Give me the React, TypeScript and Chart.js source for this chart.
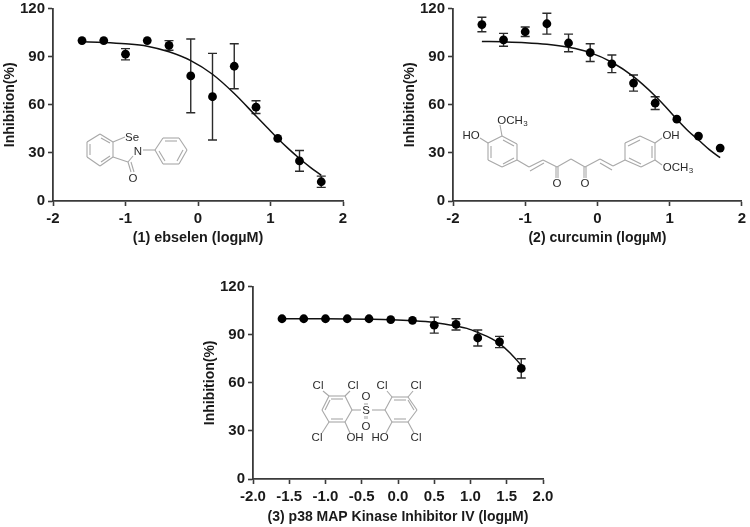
import React, { useEffect, useRef } from "react";
import { Chart, registerables } from "chart.js";

Chart.register(...registerables);

const FONT = '"Liberation Sans", Arial, sans-serif';

const doses = [-1.6, -1.3, -1, -0.7, -0.4, -0.1, 0.2, 0.5, 0.8, 1.1, 1.4, 1.7];
const curveDoses = [-1.6, -1.3, -1, -0.7, -0.4, -0.1, 0.2, 0.5, 0.8, 0.95, 1.1, 1.25, 1.4, 1.55, 1.7];

const ebselenValues = [100, 100, 91.5, 100, 97, 78, 65, 84, 58.5, 39, 25, 12];
const ebselenErrors = [0, 0, 3.5, 0, 3, 23, 27, 14, 4, 0, 6.5, 3.5];
const ebselenCurve = [99.2, 98.8, 98, 96.5, 93, 87.5, 79, 67, 53, 46, 39, 32.5, 26.5, 21, 16];

const curcuminValues = [110, 100.5, 105.5, 110.5, 98.5, 92.5, 85.5, 73.5, 61, 51, 40.5, 33];
const curcuminErrors = [4.5, 4, 3, 6.5, 5.5, 5.5, 5.5, 5, 4, 0, 0, 0];
const curcuminCurve = [99.5, 99.2, 98.7, 97.7, 95.8, 92.5, 86.5, 77.5, 65.5, 58.5, 51, 44, 38, 32, 27];

const p38Values = [100, 100, 100, 100, 100, 99.5, 99, 96, 96.5, 88, 85.5, 69];
const p38Errors = [0, 0, 0, 0, 0, 0, 0, 5, 3.5, 5, 3.5, 6];
const p38Curve = [100, 100, 100, 99.9, 99.7, 99.4, 98.8, 97.7, 95.5, 94, 91.5, 88.5, 84.5, 78.5, 71];

type Seg = number[];
type Lab = [string, number, number];

// Chemical structure decorations, in page pixels
const ebselenBonds: Seg[] = [
  [100, 134, 113, 142], [113, 142, 113, 157], [113, 157, 100, 166], [100, 166, 87, 157], [87, 157, 87, 142], [87, 142, 100, 134],
  [101, 138, 110, 143], [110, 156, 101, 162], [90, 155, 90, 144],
  [113, 142, 125, 137], [113, 157, 128, 162], [128, 162, 133, 156], [128, 162, 131, 172], [131, 162, 134, 172],
  [143, 150, 155, 150],
  [163, 138, 179, 138], [179, 138, 187, 150], [187, 150, 179, 164], [179, 164, 163, 164], [163, 164, 155, 150], [155, 150, 163, 138],
  [165, 141, 177, 141], [183, 150, 177, 161], [165, 161, 159, 151],
];
const ebselenLabels: Lab[] = [["Se", 132, 138], ["N", 138, 152], ["O", 133, 179]];

const curcuminBonds: Seg[] = [
  [502, 136, 517, 144], [517, 144, 517, 160], [517, 160, 502, 167], [502, 167, 488, 160], [488, 160, 488, 143], [488, 143, 502, 136],
  [503, 140, 514, 146], [514, 158, 503, 164], [491, 158, 491, 146],
  [488, 143, 480, 138], [502, 136, 500, 125],
  [517, 160, 529, 167], [529, 167, 543, 160], [530, 171, 544, 163], [543, 160, 557, 167], [557, 167, 571, 159], [571, 159, 585, 167], [585, 167, 600, 159], [600, 159, 613, 166], [600, 163, 612, 170], [613, 166, 625, 160],
  [556, 167, 556, 178], [558, 167, 558, 178], [584, 167, 584, 178], [586, 167, 586, 178],
  [640, 136, 655, 143], [655, 143, 655, 160], [655, 160, 641, 167], [641, 167, 625, 160], [625, 160, 625, 143], [625, 143, 640, 136],
  [640, 140, 628, 146], [652, 146, 652, 158], [641, 164, 629, 158],
  [655, 143, 662, 138], [655, 160, 662, 165],
];
const curcuminLabels: Lab[] = [["HO", 471, 136], ["OCH", 510, 121], ["3", 525.5, 124], ["O", 557, 184], ["O", 585, 184], ["OH", 671, 136], ["OCH", 675.5, 168], ["3", 691, 171]];

const p38Bonds: Seg[] = [
  [329, 396, 345, 396], [345, 396, 352, 410], [352, 410, 345, 422], [345, 422, 329, 422], [329, 422, 322, 410], [322, 410, 329, 396],
  [331, 399, 343, 399], [331, 419, 343, 419], [325, 410, 330, 400],
  [329, 396, 323, 391], [345, 396, 350, 391], [329, 422, 322, 433], [345, 422, 350, 433], [352, 410, 361, 410],
  [372, 410, 385, 410],
  [385, 410, 392, 397], [392, 397, 408, 397], [408, 397, 417, 410], [417, 410, 408, 422], [408, 422, 392, 422], [392, 422, 385, 410],
  [394, 400, 406, 400], [394, 419, 406, 419], [414, 410, 408, 400],
  [392, 397, 387, 391], [408, 397, 413, 391], [392, 422, 386, 433], [408, 422, 414, 433],
  [365, 403, 365, 405], [367, 403, 367, 405], [365, 416, 365, 419], [367, 416, 367, 419],
];
const p38Labels: Lab[] = [
  ["Cl", 318, 386], ["Cl", 353, 386], ["Cl", 317, 438], ["OH", 355, 438], ["S", 366, 411], ["O", 366, 397], ["O", 366, 427],
  ["Cl", 382, 386], ["Cl", 416, 386], ["HO", 380, 438], ["Cl", 416, 438],
];

type PanelProps = {
  left: number; top: number; width: number; height: number;
  axisLeft: number; axisBottom: number; padTop: number; padRight: number; padBottom: number;
  values: number[]; errors: number[]; curve: number[];
  xTitle: string; xTitleSize: number; xStep: number; xDigits: number;
  bonds: Seg[]; labels: Lab[];
};

function Panel(p: PanelProps) {
  const ref = useRef<HTMLCanvasElement>(null);
  useEffect(() => {
    const errorBars = {
      id: "errorBars",
      beforeDatasetsDraw(chart: any) {
        const { ctx, scales } = chart;
        ctx.save();
        ctx.strokeStyle = "#2b2b2b";
        ctx.lineWidth = 1.4;
        doses.forEach((d, i) => {
          const e = p.errors[i];
          if (!e) return;
          const x = scales.x.getPixelForValue(d);
          const y1 = scales.y.getPixelForValue(p.values[i] + e);
          const y2 = scales.y.getPixelForValue(p.values[i] - e);
          ctx.beginPath();
          ctx.moveTo(x, y1); ctx.lineTo(x, y2);
          ctx.moveTo(x - 4.5, y1); ctx.lineTo(x + 4.5, y1);
          ctx.moveTo(x - 4.5, y2); ctx.lineTo(x + 4.5, y2);
          ctx.stroke();
        });
        ctx.restore();
      },
    };
    const structure = {
      id: "structure",
      afterDraw(chart: any) {
        const { ctx } = chart;
        ctx.save();
        ctx.translate(-p.left, -p.top);
        ctx.strokeStyle = "#a8a8a8";
        ctx.lineWidth = 1.1;
        p.bonds.forEach(([a, b, c, d]) => {
          ctx.beginPath(); ctx.moveTo(a, b); ctx.lineTo(c, d); ctx.stroke();
        });
        ctx.fillStyle = "#2a2a2a";
        ctx.textAlign = "center";
        ctx.textBaseline = "middle";
        p.labels.forEach(([t, x, y]) => {
          ctx.font = `${t === "3" ? 8 : 11.5}px ${FONT}`;
          ctx.fillText(t, x, y);
        });
        ctx.restore();
      },
    };
    const tickFont = { family: FONT, size: 15, weight: "bold" as const };
    const titleFont = { family: FONT, size: 14, weight: "bold" as const };
    const chart = new Chart(ref.current as HTMLCanvasElement, {
      type: "scatter",
      data: {
        datasets: [
          {
            label: "fit",
            data: curveDoses.map((x, i) => ({ x, y: p.curve[i] })),
            showLine: true,
            pointRadius: 0,
            borderColor: "#111",
            borderWidth: 1.5,
            cubicInterpolationMode: "monotone",
            order: 2,
          },
          {
            label: "measured",
            data: doses.map((x, i) => ({ x, y: p.values[i] })),
            showLine: false,
            pointRadius: 4.4,
            pointBackgroundColor: "#000",
            pointBorderColor: "#000",
            pointBorderWidth: 0,
            order: 1,
          },
        ],
      },
      options: {
        animation: false,
        responsive: false,
        maintainAspectRatio: false,
        layout: { padding: { top: p.padTop, right: p.padRight, bottom: p.padBottom, left: 0 } },
        plugins: { legend: { display: false }, tooltip: { enabled: false }, title: { display: false } },
        scales: {
          x: {
            type: "linear",
            min: -2,
            max: 2,
            afterFit(s: any) { s.height = p.height - p.padBottom - (p.axisBottom - p.top); },
            ticks: {
              stepSize: p.xStep,
              font: tickFont,
              color: "#1a1a1a",
              padding: 4,
              maxRotation: 0,
              autoSkip: false,
              callback: (v: any) => Number(v).toFixed(p.xDigits),
            },
            grid: { drawOnChartArea: false, drawTicks: true, tickLength: 5, tickColor: "#3a3a3a", tickWidth: 1.6 },
            border: { color: "#3a3a3a", width: 1.8 },
            title: { display: true, text: p.xTitle, font: { ...titleFont, size: p.xTitleSize }, color: "#1a1a1a", padding: { top: 0, bottom: 0 } },
          },
          y: {
            min: 0,
            max: 120,
            afterFit(s: any) { s.width = p.axisLeft - p.left; },
            ticks: { stepSize: 30, font: tickFont, color: "#1a1a1a", padding: 3 },
            grid: { drawOnChartArea: false, drawTicks: true, tickLength: 5, tickColor: "#3a3a3a", tickWidth: 1.6 },
            border: { color: "#3a3a3a", width: 1.8 },
            title: { display: true, text: "Inhibition(%)", font: titleFont, color: "#1a1a1a", padding: { top: 2, bottom: 0 } },
          },
        },
      } as any,
      plugins: [errorBars, structure],
    } as any);
    return () => chart.destroy();
  }, []);
  return (
    <canvas
      ref={ref}
      width={p.width}
      height={p.height}
      style={{ position: "absolute", left: p.left, top: p.top, width: p.width, height: p.height }}
    />
  );
}

export default function App() {
  return (
    <div style={{ position: "absolute", left: 0, top: 0, width: 750, height: 527, background: "#fff", overflow: "hidden" }}>
      <Panel left={0} top={-10} width={360} height={258} axisLeft={53} axisBottom={201} padTop={18.5} padRight={17} padBottom={1}
        values={ebselenValues} errors={ebselenErrors} curve={ebselenCurve}
        xTitle="(1) ebselen (logµM)" xTitleSize={14.4} xStep={1} xDigits={0} bonds={ebselenBonds} labels={ebselenLabels} />
      <Panel left={400} top={-10} width={350} height={258} axisLeft={453} axisBottom={201} padTop={18.5} padRight={7} padBottom={1}
        values={curcuminValues} errors={curcuminErrors} curve={curcuminCurve}
        xTitle="(2) curcumin (logµM)" xTitleSize={14} xStep={1} xDigits={0} bonds={curcuminBonds} labels={curcuminLabels} />
      <Panel left={200} top={268} width={360} height={259} axisLeft={253} axisBottom={479} padTop={18.7} padRight={17} padBottom={1}
        values={p38Values} errors={p38Errors} curve={p38Curve}
        xTitle="(3) p38 MAP Kinase Inhibitor IV (logµM)" xTitleSize={14} xStep={0.5} xDigits={1} bonds={p38Bonds} labels={p38Labels} />
    </div>
  );
}
